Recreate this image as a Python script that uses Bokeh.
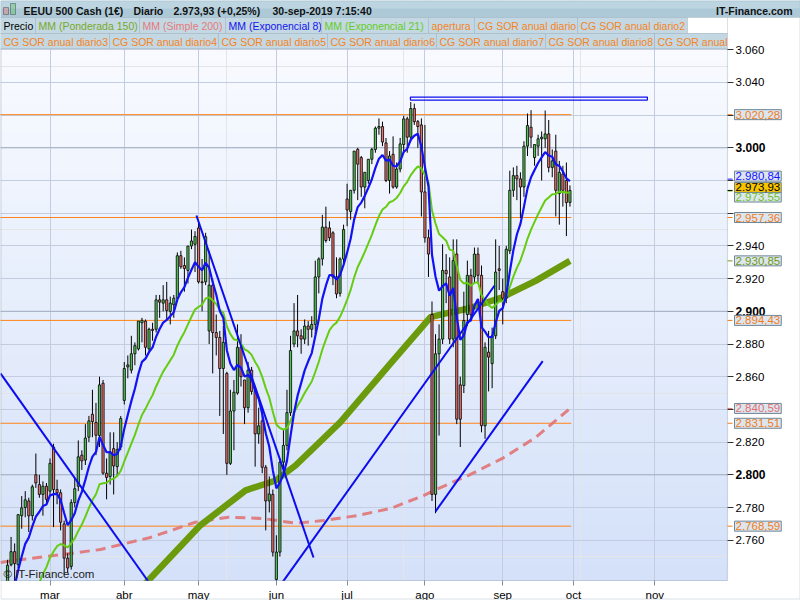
import numpy as np
from bokeh.plotting import figure
from bokeh.models import (ColumnDataSource, FixedTicker, Range1d, Label, BoxAnnotation, Span,
                          LinearAxis, Grid)
from bokeh.embed import file_html
from bokeh.resources import INLINE

# ---------------- data (bar index 0 = 1 mar 2019, one bar per trading day) ----------------
first_bar = -13
opens = [2712, 2710, 2745, 2753, 2745, 2775, 2780, 2784, 2775, 2800, 2794, 2788, 2793,
         2790, 2817, 2791, 2789, 2770, 2749, 2744, 2783, 2793, 2812, 2809, 2823, 2837, 2832, 2824, 2856, 2801, 2799, 2816, 2805, 2817,
         2845.5, 2866, 2864, 2874, 2877, 2893, 2894, 2877, 2889, 2889, 2907, 2905, 2907, 2900, 2904, 2908, 2934, 2928, 2925, 2940, 2941,
         2951, 2918, 2918, 2888, 2916, 2887, 2884, 2865, 2862, 2807, 2839, 2850, 2878, 2858, 2841, 2864, 2851, 2825, 2833, 2804.6, 2784, 2788,
         2736, 2752.7, 2807.7, 2818, 2838, 2880, 2888, 2885, 2883, 2891, 2889, 2892, 2921, 2932, 2951.5, 2951, 2948, 2921, 2911, 2932,
         2968.7, 2961, 2974, 2999, 2994, 2976, 2980, 2993, 2999, 3012, 3013, 3003, 2980, 2996, 2976, 2987, 3002, 3017.7, 3006.5, 3024, 3016, 3014,
         2973, 2945, 2898, 2788, 2874, 2883, 2925, 2921, 2883, 2935, 2855, 2854.6, 2898, 2922, 2921, 2935, 2922, 2830, 2875, 2868, 2885, 2926,
         2912, 2908, 2937, 2974, 2983, 2981, 2976, 3001, 3012.6, 2994, 3001, 3005.5, 3005.5, 3008.5, 2988, 2998, 2972, 2984, 2980, 2966.6]
highs = [2718, 2748, 2762, 2758, 2776, 2787, 2790, 2786, 2794, 2813, 2800, 2796, 2795,
         2810, 2819, 2797, 2791, 2772, 2752, 2785, 2798, 2821, 2815, 2831, 2836, 2852, 2844, 2860, 2858, 2810, 2826, 2826, 2820, 2836,
         2869, 2873, 2885, 2881, 2894, 2896, 2895, 2890, 2893, 2910, 2910, 2916, 2918, 2909, 2910, 2936, 2937, 2933, 2940, 2950, 2949,
         2955, 2932, 2948, 2937, 2920, 2898, 2888, 2891, 2863, 2852, 2858, 2892, 2886, 2858, 2869, 2866, 2852, 2841, 2841, 2806, 2799, 2791,
         2763, 2810, 2828, 2852, 2885, 2905, 2910, 2889, 2895, 2894, 2897, 2931, 2933, 2959, 2964, 2955, 2949, 2933, 2933, 2953,
         2978, 2974, 2998, 3000, 2995, 2982, 2993, 3000, 3013, 3018, 3016, 3006, 2998, 3007, 2991, 3006, 3019.6, 3019, 3028, 3027, 3017, 3018,
         3014, 2950, 2906, 2886, 2892, 2941, 2935, 2933, 2944, 2944, 2860, 2912, 2931, 2926, 2939, 2939, 2928, 2881, 2888, 2890, 2944, 2940,
         2920, 2940, 2986, 2988, 2989, 2985, 3004, 3021, 3023, 3002, 3008, 3010, 3022.8, 3017, 2999, 3008, 2992, 2989, 2991, 2977]
lows = [2704, 2708, 2744, 2731, 2743, 2767, 2774, 2765, 2772, 2792, 2786, 2775, 2782,
        2787, 2768, 2782, 2766, 2739, 2740, 2742, 2780, 2790, 2803, 2806, 2820, 2823, 2812, 2817, 2800, 2785, 2794, 2788, 2799, 2815,
        2843, 2859, 2862, 2867, 2876, 2881, 2873, 2875, 2882, 2887, 2896, 2900, 2895, 2892, 2896, 2906, 2926, 2912, 2917, 2938, 2924,
        2917, 2900, 2916, 2880, 2862, 2873, 2836, 2825, 2800, 2806, 2815, 2849, 2854, 2831, 2838, 2849, 2805, 2819, 2801, 2766, 2777, 2750,
        2729, 2750, 2801, 2815, 2836, 2878, 2878, 2874, 2880, 2879, 2884, 2886, 2911, 2928, 2942, 2943, 2916, 2908, 2909, 2929,
        2952, 2956, 2972, 2968, 2970, 2963, 2978, 2990, 2997, 3008, 3001, 2979, 2972, 2975, 2975, 2985, 2997, 2997, 3004, 3014, 3000, 2958,
        2942, 2921, 2784, 2776.5, 2824, 2880, 2905, 2880, 2878, 2831, 2817, 2850, 2891, 2895, 2917, 2917, 2826, 2822, 2851, 2853, 2883, 2913,
        2892, 2905, 2935, 2970, 2968, 2957, 2970, 2995, 3000, 2989, 2995, 2980, 3000, 2985, 2982, 2958, 2953, 2964, 2946, 2964]
closes = [2709.8, 2744.7, 2753, 2745.7, 2775.6, 2779.8, 2784.7, 2774.9, 2792.7, 2795, 2788, 2793, 2785,
          2807, 2791, 2789, 2771, 2749, 2743, 2783, 2791.5, 2811, 2808.5, 2822.5, 2833, 2832.6, 2824.2, 2855, 2801, 2798.4, 2814, 2805.4, 2815.4, 2834.4,
          2865, 2867.2, 2874, 2879, 2894, 2894.5, 2878, 2889, 2888.3, 2907, 2905.6, 2907, 2900.5, 2905, 2908, 2934, 2927.3, 2926.2, 2939.9, 2943, 2945.8,
          2918, 2917.5, 2945.6, 2916, 2887, 2884, 2865, 2881, 2807, 2839, 2850.5, 2878, 2860, 2841, 2864, 2851, 2825, 2830, 2804.6, 2784, 2788.3, 2752.7,
          2752.7, 2807.7, 2818, 2838, 2876, 2888, 2885, 2883, 2891, 2889, 2892, 2921, 2932, 2951.5, 2943.3, 2945, 2921, 2910.6, 2932, 2950,
          2962, 2974, 2998, 2990, 2976, 2985, 2993, 2999, 3012, 3013, 3003.5, 2980, 2995, 2976, 2987, 3002.4, 3017.7, 3006.5, 3024, 3016, 3013, 2973,
          2945, 2935, 2788, 2874, 2883, 2925, 2923, 2883, 2931, 2834, 2834, 2894.4, 2922, 2898, 2935, 2922, 2830, 2878, 2872, 2885, 2924, 2925,
          2908, 2938, 2974, 2983, 2981, 2976, 3001, 3013.6, 3006.5, 3002, 3005.5, 3006.5, 3008.5, 2988, 2992, 2974, 2985, 2974, 2966.5, 2973.93]

month_ticks = [0, 21, 42, 64, 84, 106, 128, 148, 171]
month_labels = ["mar", "abr", "may", "jun", "jul", "ago", "sep", "oct", "nov"]

# weighted MA 150 and simple MA 200
wma150_x = [20, 27.8, 42.5, 55.3, 63.8, 69.4, 82.1, 96.3, 107.6, 110.4, 118.3, 127.9, 137.3, 147]
wma150_v = [2717, 2735.4, 2769.1, 2790.5, 2796.5, 2805.7, 2832.2, 2868.1, 2896.4, 2898, 2901.7, 2908.6, 2918.6, 2930.85]
sma200_x = [-14, -5.5, 14.3, 28.4, 41.1, 50.5, 60.1, 69.4, 77.3, 86.9, 96.3, 105.6, 110.4, 118.3, 127.9, 137.3, 147]
sma200_v = [2746.4, 2748.9, 2754.3, 2761.7, 2771.0, 2774.1, 2773.3, 2770.4, 2772.0, 2775.1, 2779.4, 2787.3, 2792.2,
            2799.6, 2810.0, 2822.8, 2840.59]
ema8_start = 2715
ema21_start = 2660

# annual levels (CG SOR anual diario)
levels = [3020.28, 2957.36, 2894.43, 2831.51, 2768.59]

# drawn trend lines
trend_x0 = [-14.0, 41.4, 64.0, 109.0]
trend_v0 = [2862.0, 2958.6, 2729.0, 2777.6]
trend_x1 = [30.0, 74.5, 125.7, 139.3]
trend_v1 = [2728.0, 2749.4, 2915.8, 2869.5]
box_x = [101.9, 168.9]
box_v = [3029.2, 3031.0]

# price tags on the right axis
tag_values = [3020.28, 2980.84, 2973.55, 2973.93, 2957.36, 2930.85, 2894.43, 2840.59, 2831.51, 2768.59]
tag_colors = ["#f07d1c", "#1414ff", "#6cc51c", "#000000", "#f07d1c", "#6f9a10", "#f07d1c", "#e07070", "#f07d1c", "#f07d1c"]
tag_fill = ["#dde6ef"] * 3 + ["#f8c400"] + ["#dde6ef"] * 6
tag_shift = [0, 3, -6, 3, 0, 0, 0, 0, 0, 0]

y_ticks = list(range(2760, 3061, 20))

# ---------------- layout constants (pixels) ----------------
W, H = 800, 600
BAR_PX, BAR0_PX = 3.537, 49.5          # px per bar, page x of bar 0
PT_PX, V3000_PX = 1.635, 147.3         # px per index point, page y of 3.000
PLOT_R, PLOT_T, PLOT_B = 727, 48, 580  # data area edges


def px_x(px):
    return (px - BAR0_PX) / BAR_PX


def px_v(py):
    return 3000 - (py - V3000_PX) / PT_PX


def sy(py):  # page y -> screen y (measured from bottom)
    return H - py


def fmt(v):
    s = f"{v:,.2f}"
    return s.replace(",", "X").replace(".", ",").replace("X", ".")


def ema(vals, span, start):
    a = 2.0 / (span + 1)
    out, e = [], start
    for v in vals:
        e = e + a * (v - e)
        out.append(e)
    return out


def tick_text(t):
    if t % 100 == 0:
        return ""  # drawn in bold separately
    if any(abs(t - v) < 4 for v in tag_values):
        return ""  # hidden behind a price tag
    return f"{t:,d}".replace(",", ".")


o = np.array(opens, float); h = np.array(highs, float)
l = np.array(lows, float); c = np.array(closes, float)
bx = np.arange(first_bar, first_bar + len(c))
up = c >= o
src = ColumnDataSource(dict(x=bx, h=h, l=l, top=np.maximum(o, c), bottom=np.minimum(o, c),
                            color=np.where(up, "#52c452", "#e8736e")))

FONT = "Liberation Sans"

p = figure(width=W, height=H, output_backend="svg", toolbar_location=None,
           x_range=Range1d(px_x(0), px_x(W)), y_range=Range1d(px_v(H), px_v(0)),
           x_axis_location=None, y_axis_location=None,
           min_border_left=0, min_border_right=0, min_border_top=0, min_border_bottom=0)
p.background_fill_color = "white"
p.border_fill_color = "white"
p.outline_line_color = None

# gradient background of the data area
nb = 38
band = (PLOT_B - PLOT_T) / nb
for k in range(nb):
    t = k / (nb - 1)
    col = tuple(int(round(a + (b - a) * t)) for a, b in zip((248, 250, 255), (212, 225, 249)))
    p.add_layout(BoxAnnotation(left=0, right=PLOT_R, top=sy(PLOT_T + k * band) + 0.5,
                               bottom=sy(PLOT_T + (k + 1) * band) - 0.5,
                               left_units="screen", right_units="screen", top_units="screen", bottom_units="screen",
                               fill_color="#%02x%02x%02x" % col, fill_alpha=1, line_alpha=0, level="image"))

# grids
yg = Grid(dimension=1, ticker=FixedTicker(ticks=y_ticks), grid_line_color="#c3cde0")
xg = Grid(dimension=0, ticker=FixedTicker(ticks=month_ticks), grid_line_color="#c3cde0")
p.add_layout(yg)
p.add_layout(xg)
for t in y_ticks:
    if t % 100 == 0:
        p.add_layout(Span(location=t, dimension="width", line_color="#a3afc2", line_width=1, level="underlay"))

# level lines
last = bx[-1] + 0.4
p.segment(x0=[bx[0] - 3] * len(levels), y0=levels, x1=[last] * len(levels), y1=levels,
          line_color="#ff8418", line_width=1)

# moving averages
p.line(sma200_x, sma200_v, line_color="#e07474", line_width=3, line_dash="10 6", line_alpha=0.9)
p.line(wma150_x, wma150_v, line_color="#6b9b0c", line_width=6.5)

# candles
p.segment(x0="x", y0="h", x1="x", y1="l", source=src, line_color="black", line_width=1)
p.vbar(x="x", top="top", bottom="bottom", width=0.62, source=src, fill_color="color",
       line_color="black", line_width=0.8)

p.line(bx, ema(closes, 21, ema21_start), line_color="#66cc11", line_width=2)
p.line(bx, ema(closes, 8, ema8_start), line_color="#1212f5", line_width=2.2)

# trend lines and box
p.segment(x0=trend_x0, y0=trend_v0, x1=trend_x1, y1=trend_v1, line_color="#0c0cf0", line_width=2)
p.quad(left=[box_x[0]], right=[box_x[1]], bottom=[box_v[0]], top=[box_v[1]],
       fill_alpha=0, line_color="#0c0cf0", line_width=1.2)

# white masks outside the data area (right axis zone and bottom axis zone)
p.quad(left=[px_x(PLOT_R + 0.5), px_x(0)], right=[px_x(W + 5), px_x(W + 5)],
       bottom=[px_v(H + 5), px_v(H + 5)], top=[px_v(-5), px_v(PLOT_B + 0.5)],
       fill_color="white", line_alpha=0)
# small coloured markers next to the price tags
p.segment(x0=[px_x(PLOT_R)] * len(tag_values), y0=tag_values, x1=[px_x(PLOT_R + 5)] * len(tag_values),
          y1=tag_values, line_color=tag_colors, line_width=1)

# axes (real axes, pinned to the edges of the data area)
yax = LinearAxis(fixed_location=px_x(PLOT_R), ticker=FixedTicker(ticks=y_ticks),
                 major_label_overrides={t: tick_text(t) for t in y_ticks},
                 minor_tick_line_color=None, major_tick_in=0, major_tick_out=6, major_label_standoff=2,
                 axis_line_color=None, major_tick_line_color="#333333",
                 major_label_text_font=FONT, major_label_text_font_size="11.5px", major_label_text_color="black")
p.add_layout(yax, "right")
xax = LinearAxis(fixed_location=px_v(PLOT_B), ticker=FixedTicker(ticks=month_ticks),
                 major_label_overrides=dict(zip(month_ticks, month_labels)),
                 minor_tick_line_color=None, major_tick_in=0, major_tick_out=5, major_label_standoff=3,
                 axis_line_color=None, major_tick_line_color="#7d8fa0",
                 major_label_text_font=FONT, major_label_text_font_size="11.5px", major_label_text_color="black")
p.add_layout(xax, "below")

# data-area outline and outer border
p.add_layout(BoxAnnotation(left=0, right=PLOT_R, top=sy(PLOT_T), bottom=sy(PLOT_B), left_units="screen",
                           right_units="screen", top_units="screen", bottom_units="screen",
                           fill_alpha=0, line_color="#7d8fa0", line_width=1.2))
p.add_layout(BoxAnnotation(left=0.5, right=W - 0.5, top=sy(0.5), bottom=sy(H - 1.5), left_units="screen",
                           right_units="screen", top_units="screen", bottom_units="screen",
                           fill_alpha=0, line_color="#8898a6", line_width=1))

# watermark
p.add_layout(Label(x=3, y=sy(579), x_units="screen", y_units="screen", text="\u00a9 IT-Finance.com",
                   text_font=FONT, text_font_size="11.5px", text_color="#222222"))

# bold hundreds labels on the axis
for t in y_ticks:
    if t % 100 == 0:
        p.add_layout(Label(x=735, y=t, x_units="screen", y_units="data", text=f"{t:,d}".replace(",", "."),
                           text_font=FONT, text_font_size="12px", text_font_style="bold",
                           text_baseline="middle", text_color="black"))

# price tags
for v, col, fill, sh in zip(tag_values, tag_colors, tag_fill, tag_shift):
    p.add_layout(Label(x=734, y=v, x_units="screen", y_units="data", y_offset=sh, text=fmt(v),
                       text_font=FONT, text_font_size="11.5px", text_color=col, text_baseline="middle",
                       background_fill_color=fill, border_line_color="#6f8797", padding=1))

# ---------------- header and legend ----------------
def sbox(x0, x1, y0, y1, **kw):
    return BoxAnnotation(left=x0, right=x1, top=sy(y0), bottom=sy(y1), left_units="screen",
                         right_units="screen", top_units="screen", bottom_units="screen", **kw)


p.add_layout(sbox(0, W, 0, 17, fill_color="#adc9d8", fill_alpha=1, line_color="#8ea9b8", line_width=1))
p.add_layout(sbox(1, W - 1, 1, 8, fill_color="#bcd5e1", fill_alpha=1, line_alpha=0))
# icon
p.add_layout(sbox(3, 8, 7, 14, fill_color="#e8736e", line_color="black"))
p.add_layout(sbox(10, 15, 3, 14, fill_color="#52c452", line_color="black"))
for txt, xx in [("EEUU 500 Cash (1\u20ac)", 23), ("Diario", 133), ("2.973,93 (+0,25%)", 173),
                ("30-sep-2019 7:15:40", 272)]:
    p.add_layout(Label(x=xx, y=sy(10), x_units="screen", y_units="screen", text=txt, text_font=FONT,
                       text_font_size="10.5px", text_font_style="bold", text_baseline="middle", text_color="#111111"))
p.add_layout(Label(x=792, y=sy(10), x_units="screen", y_units="screen", text="IT-Finance.com", text_font=FONT,
                   text_font_size="10.5px", text_font_style="bold", text_baseline="middle", text_align="right",
                   text_color="#111111"))

row1 = [("Precio", 0, 35, "black"), ("MM (Ponderada 150)", 35, 139, "#7aa826"), ("MM (Simple 200)", 139, 225, "#e67a7a"),
        ("MM (Exponencial 8)", 225, 321, "#1414ee"), ("MM (Exponencial 21)", 321, 428, "#66cc22"),
        ("apertura", 428, 474, "#f5841f"), ("CG SOR anual diario", 474, 577, "#f5841f"),
        ("CG SOR anual diario2", 577, 687, "#f5841f"), ("", 687, 727, "white")]
row2 = [("CG SOR anual diario%d" % k, (k - 3) * 109, 109 + (k - 3) * 109, "#f5841f") for k in range(3, 9)]
row2.append(("CG SOR anual", 654, 727, "#f5841f"))
for row, y0, y1 in [(row1, 17, 33), (row2, 33, 48)]:
    for txt, x0, x1, col in row:
        fill = "white" if txt == "" else "#c3d8e3"
        p.add_layout(sbox(x0, x1, y0, y1, fill_color=fill, fill_alpha=1, line_color="#7f97a6", line_width=1))
        if txt:
            p.add_layout(Label(x=x0 + 3, y=sy((y0 + y1) / 2 + 0.5), x_units="screen", y_units="screen", text=txt,
                               text_font=FONT, text_font_size="10.5px", text_baseline="middle", text_color=col))

open("out.html", "w").write(file_html(p, INLINE))
